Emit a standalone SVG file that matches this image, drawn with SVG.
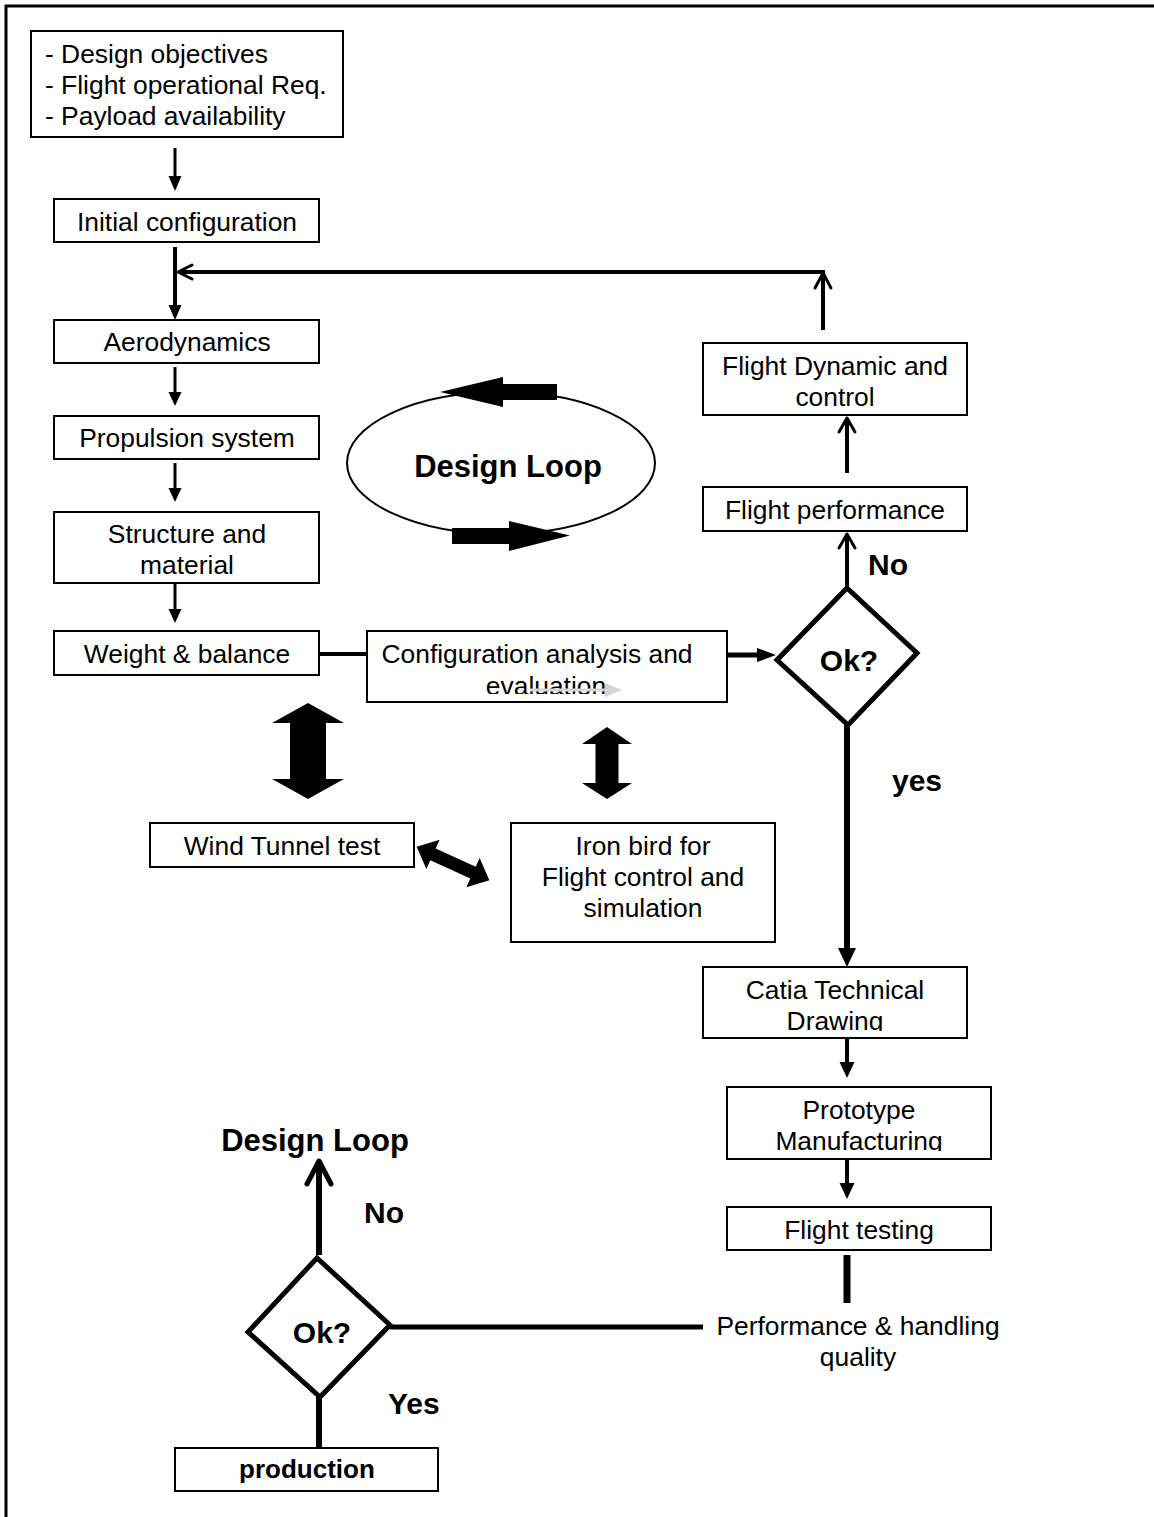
<svg xmlns="http://www.w3.org/2000/svg" width="1154" height="1517" viewBox="0 0 1154 1517">
<style>
  .box{fill:#fff;stroke:#000;stroke-width:2}
  .t{font-family:"Liberation Sans",Arial,sans-serif;font-size:26.4px;fill:#000;text-anchor:middle}
  .b{font-family:"Liberation Sans",Arial,sans-serif;font-size:30px;font-weight:bold;fill:#000}
  .ln{stroke:#000;fill:none}
  .open{stroke:#000;fill:none;stroke-width:3;stroke-linecap:round;stroke-linejoin:round}
  .fat{fill:#000}
</style>
<defs>
  <clipPath id="clipEval"><rect x="360" y="620" width="380" height="74"/></clipPath>
  <clipPath id="clipDraw"><rect x="700" y="960" width="270" height="71"/></clipPath>
  <clipPath id="clipManu"><rect x="720" y="1080" width="280" height="71"/></clipPath>
</defs>
<rect width="1154" height="1517" fill="#fff"/>
<!-- outer frame -->
<rect x="6" y="6" width="1200" height="1560" fill="none" stroke="#000" stroke-width="3"/>

<g id="connectors">
  <!-- left column -->
  <line class="ln" x1="175" y1="148" x2="175" y2="177" stroke-width="3"/>
  <polygon points="168.5,176 181.5,176 175,191"/>
  <line class="ln" x1="175" y1="247" x2="175" y2="306" stroke-width="4"/>
  <polygon points="168.5,305 181.5,305 175,320"/>
  <line class="ln" x1="175" y1="367" x2="175" y2="393" stroke-width="3"/>
  <polygon points="168.5,392 181.5,392 175,406"/>
  <line class="ln" x1="175" y1="463" x2="175" y2="489" stroke-width="3"/>
  <polygon points="168.5,488 181.5,488 175,502"/>
  <line class="ln" x1="175" y1="584" x2="175" y2="610" stroke-width="3"/>
  <polygon points="168.5,609 181.5,609 175,623"/>
  <!-- feedback loop -->
  <line class="ln" x1="823" y1="330" x2="823" y2="274" stroke-width="4"/>
  <polyline class="open" points="815,288 823,273 831,288"/>
  <line class="ln" x1="825" y1="272" x2="179" y2="272" stroke-width="4"/>
  <polyline class="open" points="192,265 178,272 192,279"/>
  <!-- right column up -->
  <line class="ln" x1="847" y1="473" x2="847" y2="419" stroke-width="4"/>
  <polyline class="open" points="839,432 847,418 855,432"/>
  <line class="ln" x1="847" y1="588" x2="847" y2="535" stroke-width="4"/>
  <polyline class="open" points="839,548 847,534 855,548"/>
  <!-- weight -> config -->
  <line class="ln" x1="319" y1="654" x2="367" y2="654" stroke-width="4"/>
  <!-- config -> diamond -->
  <line class="ln" x1="727" y1="655" x2="758" y2="655" stroke-width="5"/>
  <polygon points="757,648 757,662 776,655"/>
  <!-- diamond -> catia -->
  <line class="ln" x1="847" y1="724" x2="847" y2="950" stroke-width="6"/>
  <polygon points="838,948 856,948 847,967"/>
  <!-- catia -> prototype -->
  <line class="ln" x1="847" y1="1038" x2="847" y2="1063" stroke-width="4"/>
  <polygon points="839.5,1062 854.5,1062 847,1078"/>
  <!-- prototype -> flight testing -->
  <line class="ln" x1="847" y1="1159" x2="847" y2="1184" stroke-width="4"/>
  <polygon points="839.5,1183 854.5,1183 847,1199"/>
  <!-- flight testing -> performance -->
  <line class="ln" x1="847" y1="1255" x2="847" y2="1303" stroke-width="7"/>
  <!-- performance -> lower diamond -->
  <line class="ln" x1="390" y1="1327" x2="703" y2="1327" stroke-width="5"/>
  <!-- lower diamond up -->
  <line class="ln" x1="319" y1="1255" x2="319" y2="1163" stroke-width="6"/>
  <polyline class="open" points="307,1184 319,1161 331,1184" style="stroke-width:5"/>
  <!-- lower diamond -> production -->
  <line class="ln" x1="319" y1="1397" x2="319" y2="1448" stroke-width="6"/>
  <!-- fat double arrows -->
  <polygon class="fat" points="308,703 344,723 326,723 326,779 344,779 308,799 272,779 290,779 290,723 272,723"/>
  <polygon class="fat" points="607,727 632,744 618.5,744 618.5,783 632,783 607,799 582,783 595.5,783 595.5,744 582,744"/>
  <polygon class="fat" transform="translate(453,863.5) rotate(24.6)" points="-40,0 -22,-16 -22,-6.5 22,-6.5 22,-16 40,0 22,16 22,6.5 -22,6.5 -22,16"/>
</g>

<g id="n_requirements">
  <rect class="box" x="31" y="31" width="312" height="106"/>
  <text class="t" x="45" y="63" style="text-anchor:start">- Design objectives</text>
  <text class="t" x="45" y="94" style="text-anchor:start">- Flight operational Req.</text>
  <text class="t" x="45" y="125" style="text-anchor:start">- Payload availability</text>
</g>
<g id="n_initial">
  <rect class="box" x="54" y="199" width="265" height="43"/>
  <text class="t" x="187" y="231">Initial configuration</text>
</g>
<g id="n_aero">
  <rect class="box" x="54" y="320" width="265" height="43"/>
  <text class="t" x="187" y="351">Aerodynamics</text>
</g>
<g id="n_propulsion">
  <rect class="box" x="54" y="416" width="265" height="43"/>
  <text class="t" x="187" y="447">Propulsion system</text>
</g>
<g id="n_structure">
  <rect class="box" x="54" y="512" width="265" height="71"/>
  <text class="t" x="187" y="543">Structure and</text>
  <text class="t" x="187" y="574">material</text>
</g>
<g id="n_weight">
  <rect class="box" x="54" y="631" width="265" height="44"/>
  <text class="t" x="187" y="663">Weight &amp; balance</text>
</g>
<g id="n_config">
  <rect class="box" x="367" y="631" width="360" height="71"/>
  <text class="t" x="537" y="663">Configuration analysis and</text>
  <text class="t" x="546" y="695" clip-path="url(#clipEval)">evaluation</text>
  <line x1="530" y1="690" x2="607" y2="690" stroke="#d4d4d4" stroke-width="3"/>
  <polygon points="605,683 605,697 622,690" fill="#d4d4d4"/>
</g>
<g id="n_loop">
  <ellipse cx="501" cy="463" rx="154" ry="71" fill="none" stroke="#000" stroke-width="2"/>
  <polygon class="fat" points="557,384 503,384 503,377 440,392 503,407 503,400 557,400"/>
  <polygon class="fat" points="452,528 509,528 509,521 570,535.5 509,551 509,544 452,544"/>
  <text class="b" x="508" y="477" style="text-anchor:middle;font-size:31px">Design Loop</text>
</g>
<g id="n_fdc">
  <rect class="box" x="703" y="343" width="264" height="72"/>
  <text class="t" x="835" y="375">Flight Dynamic and</text>
  <text class="t" x="835" y="406">control</text>
</g>
<g id="n_fperf">
  <rect class="box" x="703" y="487" width="264" height="44"/>
  <text class="t" x="835" y="519">Flight performance</text>
</g>
<g id="n_ok1">
  <polygon points="847,588 917,653 848,725 777,660" fill="#fff" stroke="#000" stroke-width="5" stroke-linejoin="miter"/>
  <text class="b" x="849" y="671" style="text-anchor:middle">Ok?</text>
  <text class="b" x="868" y="575">No</text>
  <text class="b" x="892" y="791">yes</text>
</g>
<g id="n_wind">
  <rect class="box" x="150" y="823" width="264" height="44"/>
  <text class="t" x="282" y="855">Wind Tunnel test</text>
</g>
<g id="n_iron">
  <rect class="box" x="511" y="823" width="264" height="119"/>
  <text class="t" x="643" y="855">Iron bird for</text>
  <text class="t" x="643" y="886">Flight control and</text>
  <text class="t" x="643" y="917">simulation</text>
</g>
<g id="n_catia">
  <rect class="box" x="703" y="967" width="264" height="71"/>
  <text class="t" x="835" y="999">Catia Technical</text>
  <text class="t" x="835" y="1030" clip-path="url(#clipDraw)">Drawing</text>
</g>
<g id="n_proto">
  <rect class="box" x="727" y="1087" width="264" height="72"/>
  <text class="t" x="859" y="1119">Prototype</text>
  <text class="t" x="859" y="1150" clip-path="url(#clipManu)">Manufacturing</text>
</g>
<g id="n_ftest">
  <rect class="box" x="727" y="1207" width="264" height="43"/>
  <text class="t" x="859" y="1239">Flight testing</text>
</g>
<g id="n_perf">
  <text class="t" x="858" y="1335">Performance &amp; handling</text>
  <text class="t" x="858" y="1366">quality</text>
</g>
<g id="n_ok2">
  <polygon points="317,1258 390,1325 320,1397 248,1332" fill="#fff" stroke="#000" stroke-width="5" stroke-linejoin="miter"/>
  <text class="b" x="322" y="1343" style="text-anchor:middle">Ok?</text>
  <text class="b" x="364" y="1223">No</text>
  <text class="b" x="388" y="1414">Yes</text>
  <text class="b" x="315" y="1151" style="text-anchor:middle;font-size:31px">Design Loop</text>
</g>
<g id="n_production">
  <rect class="box" x="175" y="1448" width="263" height="43" stroke-width="3"/>
  <text class="b" x="307" y="1478" style="text-anchor:middle;font-size:26px">production</text>
</g>
</svg>
